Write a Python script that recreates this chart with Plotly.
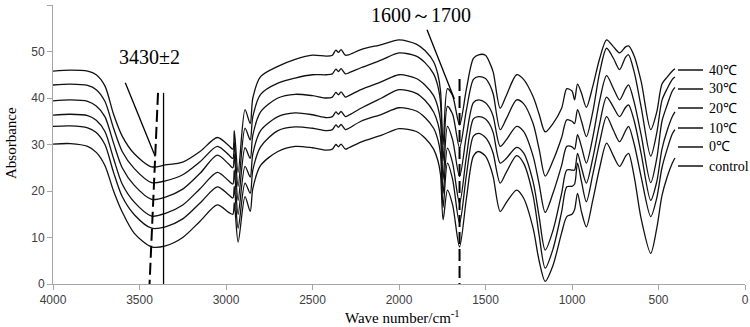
import plotly.graph_objects as go

wavenumber = [4000, 3900, 3800, 3750, 3700, 3650, 3600, 3530, 3430, 3350, 3250, 3150, 3050, 2985, 2960, 2952, 2930, 2890, 2860, 2845,
              2800, 2700, 2600, 2500, 2420, 2385, 2365, 2350, 2335, 2310, 2290, 2220, 2100, 2000, 1900, 1850, 1800, 1775, 1760, 1745,
              1720, 1690, 1650, 1610, 1570, 1540, 1500, 1475, 1455, 1415, 1380, 1320, 1280, 1225, 1190, 1155, 1110, 1060, 1030, 1000,
              985, 968, 945, 917, 880, 840, 800, 760, 725, 690, 673, 640, 600, 545, 510, 480, 450, 420, 405]

abs_40 = [45.8, 46.0, 45.8, 45.0, 42.6, 36.5, 31.8, 28.0, 25.2, 25.6, 26.2, 28.5, 31.5, 29.8, 29.0, 33.0, 24.0, 37.5, 34.5, 40.0,
          44.6, 46.8, 48.3, 49.2, 49.0, 49.2, 50.3, 49.8, 50.4, 49.2, 49.3, 50.4, 51.5, 52.5, 51.6, 50.2, 47.8, 45.0, 41.5, 30.0,
          42.0, 40.5, 34.2, 42.0, 48.5, 49.3, 49.2, 47.5, 45.5, 37.8, 40.5, 45.0, 44.0, 40.3, 36.5, 32.7, 34.5, 37.8, 42.0, 41.5,
          39.6, 43.0, 41.0, 38.0, 42.5, 48.5, 52.5, 51.0, 49.7, 51.0, 51.2, 49.0, 43.5, 33.2, 37.0, 43.0, 44.5, 45.8, 46.3]

abs_30 = [42.8, 43.0, 42.7, 41.8, 39.3, 33.5, 28.5, 24.8, 21.8, 22.2, 23.5, 26.3, 29.6, 27.8, 27.0, 30.5, 21.0, 33.5, 31.0, 36.0,
          40.8, 43.2, 44.3, 45.0, 45.0, 45.2, 46.2, 45.7, 46.3, 45.2, 45.4, 46.5, 48.2, 49.7, 49.0, 47.6, 45.2, 42.5, 39.0, 26.5,
          38.2, 36.5, 29.3, 37.5, 44.0, 44.6, 44.2, 42.8, 40.8, 33.2, 35.5, 39.6, 38.8, 34.5, 29.0, 23.2, 26.5, 31.5, 35.3, 35.0,
          34.5, 37.5, 35.0, 31.7, 37.0, 45.5, 50.7, 48.5, 46.1, 48.8, 49.3, 45.5, 38.0, 27.5, 32.5, 39.5, 42.0, 44.0, 44.5]

abs_20 = [39.4, 39.6, 39.3, 38.3, 36.0, 30.3, 25.0, 21.2, 18.2, 18.7, 20.4, 23.8, 27.7, 25.8, 25.0, 28.0, 18.0, 29.3, 27.0, 32.0,
          37.0, 40.0, 40.8, 40.5, 40.0, 40.2, 41.2, 40.7, 41.3, 40.2, 40.5, 41.8, 43.5, 45.0, 44.2, 42.8, 40.5, 38.0, 35.0, 22.5,
          33.9, 31.0, 23.1, 32.0, 39.0, 39.6, 39.0, 37.8, 36.0, 29.6, 31.0, 33.9, 32.8, 27.5, 21.5, 15.4, 19.5, 25.5, 29.6, 29.5,
          29.0, 32.1, 29.5, 26.0, 31.5, 39.5, 44.8, 42.0, 39.6, 42.0, 42.8, 39.0, 32.0, 21.8, 27.0, 35.0, 38.5, 41.5, 42.3]

abs_10 = [36.3, 36.5, 36.2, 35.2, 32.8, 27.0, 21.5, 17.6, 14.6, 15.2, 17.0, 20.5, 24.0, 22.2, 21.5, 24.5, 15.0, 25.3, 23.0, 28.0,
          33.0, 36.0, 36.8, 36.4, 35.8, 36.0, 37.0, 36.5, 37.1, 36.0, 36.3, 37.8, 40.0, 41.8, 41.0, 39.5, 37.0, 34.5, 31.5, 19.5,
          29.2, 26.0, 17.4, 27.5, 35.5, 36.0, 35.5, 34.3, 32.5, 26.0, 27.0, 29.4, 28.2, 22.0, 14.5, 7.3, 11.5, 19.5, 24.5, 24.5,
          24.5, 28.1, 25.0, 21.7, 27.0, 34.5, 40.2, 38.0, 36.0, 38.0, 38.5, 35.0, 28.0, 18.0, 22.0, 29.0, 33.0, 36.0, 37.0]

abs_0 = [33.9, 34.0, 33.6, 32.6, 30.0, 24.0, 18.8, 14.9, 12.0, 12.3, 14.0, 17.4, 20.9, 19.2, 18.5, 21.0, 12.0, 21.7, 19.5, 24.5,
         29.5, 33.0, 33.8, 33.5, 33.0, 33.2, 34.2, 33.7, 34.3, 33.2, 33.5, 35.0, 36.5, 37.9, 37.2, 35.8, 33.5, 31.0, 28.0, 16.5,
         26.0, 22.5, 13.1, 23.5, 31.8, 32.4, 31.5, 30.0, 28.0, 21.7, 24.0, 27.6, 26.0, 19.0, 10.5, 3.4, 7.5, 15.5, 20.9, 21.0,
         21.5, 26.0, 22.0, 17.7, 23.5, 30.5, 36.0, 33.0, 30.6, 33.0, 33.9, 30.0, 23.0, 14.5, 18.5, 25.0, 29.0, 32.3, 33.2]

abs_control = [30.1, 30.2, 29.6, 28.3, 25.5, 20.0, 15.5, 10.9, 8.0, 8.2, 10.0, 13.5, 17.0, 15.4, 15.0, 17.5, 9.0, 18.8, 15.6, 20.5,
               25.5, 28.5, 29.6, 29.3, 28.8, 29.0, 30.0, 29.5, 30.1, 29.0, 29.3, 30.5, 32.0, 33.4, 32.8, 31.4, 29.0, 26.5, 23.5, 13.8,
               20.2, 17.0, 8.0, 18.5, 27.5, 28.5, 27.5, 25.5, 23.0, 15.6, 17.5, 20.2, 18.5, 12.0, 5.0, 0.6, 4.0, 11.0, 14.5, 15.0,
               16.0, 19.5, 15.5, 12.3, 18.0, 25.0, 30.3, 27.5, 25.3, 27.5, 28.1, 23.0, 14.0, 6.6, 12.0, 19.0, 23.0, 26.0, 27.1]

series_names = ["40℃", "30℃", "20℃", "10℃", "0℃", "control"]
series_values = [abs_40, abs_30, abs_20, abs_10, abs_0, abs_control]

x_ticks = [4000, 3500, 3000, 2500, 2000, 1500, 1000, 500, 0]
y_ticks = [0, 10, 20, 30, 40, 50, 60]

fig = go.Figure()
for name, vals in zip(series_names, series_values):
    fig.add_trace(go.Scatter(x=wavenumber, y=vals, mode="lines", name=name,
                             line=dict(color="#111111", width=1.3, shape="spline", smoothing=0.8),
                             showlegend=False, hoverinfo="skip"))

shapes = []
shapes.append(dict(type="line", xref="x", yref="y", x0=3582, y0=43.3, x1=3409, y1=27.4,
                   line=dict(color="black", width=1.3)))
shapes.append(dict(type="line", xref="x", yref="y", x0=3393, y0=41.1, x1=3443, y1=-0.9,
                   line=dict(color="black", width=2, dash="12px,5px")))
shapes.append(dict(type="line", xref="x", yref="y", x0=3361, y0=41.1, x1=3361, y1=-1.3,
                   line=dict(color="black", width=1.3)))
shapes.append(dict(type="line", xref="x", yref="y", x0=1838, y0=54.7, x1=1680, y1=39.8,
                   line=dict(color="black", width=1.3)))
shapes.append(dict(type="line", xref="x", yref="y", x0=1650, y0=44.1, x1=1650, y1=-0.6,
                   line=dict(color="black", width=2, dash="12px,5px")))

annotations = [
    dict(text="3430±2", x=3440, y=48.8, xref="x", yref="y", showarrow=False,
         font=dict(family="Liberation Serif", size=20, color="black")),
    dict(text="1600～1700", x=1870, y=57.9, xref="x", yref="y", showarrow=False,
         font=dict(family="Liberation Serif", size=20, color="black")),
]

W, H = 750, 327
ml, mr, mt, mb = 53, 5, 5, 43
pw, ph = W - ml - mr, H - mt - mb


def px_to_paper_x(px):
    return (px - ml) / pw


def py_to_paper_y(py):
    return (H - mb - py) / ph


leg_py = [70, 89, 108, 128, 147, 166]
for name, py in zip(series_names, leg_py):
    yp = py_to_paper_y(py)
    shapes.append(dict(type="line", xref="paper", yref="paper", x0=px_to_paper_x(678), x1=px_to_paper_x(703),
                       y0=yp, y1=yp, line=dict(color="#222222", width=1.6)))
    annotations.append(dict(text=name, xref="paper", yref="paper", x=px_to_paper_x(707), y=yp,
                            xanchor="left", yanchor="middle", showarrow=False,
                            font=dict(family="Liberation Serif", size=14, color="black")))

annotations.append(dict(text="Wave number/cm<sup>-1</sup>", xref="paper", yref="paper",
                        x=px_to_paper_x(402), y=py_to_paper_y(317), xanchor="center", yanchor="middle",
                        showarrow=False, font=dict(family="Liberation Serif", size=15, color="black")))
annotations.append(dict(text="Absorbance", xref="paper", yref="paper", textangle=-90,
                        x=px_to_paper_x(11), y=py_to_paper_y(143), xanchor="center", yanchor="middle",
                        showarrow=False, font=dict(family="Liberation Serif", size=15, color="black")))

axis_common = dict(showgrid=False, zeroline=False, showline=True, linecolor="#a6a6a6", linewidth=1,
                   ticks="outside", ticklen=5, tickcolor="#a6a6a6", automargin=False,
                   tickfont=dict(family="Liberation Sans", size=12, color="#404040"))

fig.update_layout(
    width=W, height=H,
    margin=dict(l=ml, r=mr, t=mt, b=mb, pad=0, autoexpand=False),
    paper_bgcolor="white", plot_bgcolor="white",
    shapes=shapes, annotations=annotations,
    xaxis=dict(range=[4000, 0], tickvals=x_ticks, ticktext=[str(v) for v in x_ticks], **axis_common),
    yaxis=dict(range=[0, 60], tickvals=y_ticks, ticktext=[str(v) for v in y_ticks], **axis_common),
)

fig.write_html("out.html", config={"displayModeBar": False},
               post_script="document.body.style.margin='0';document.body.style.padding='0';"
                           "document.body.style.overflow='hidden';")
